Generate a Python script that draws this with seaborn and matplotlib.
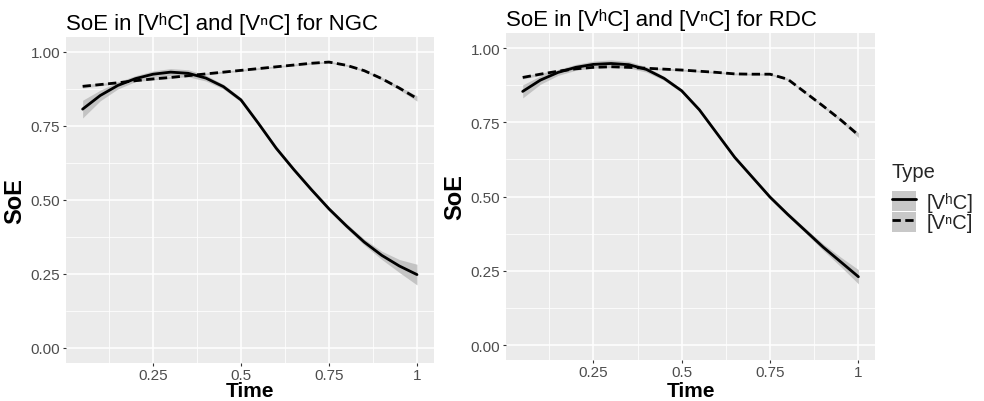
import matplotlib
matplotlib.use("Agg")
import matplotlib.pyplot as plt
import seaborn as sns
import pandas as pd
import numpy as np
from matplotlib.lines import Line2D
from matplotlib.patches import Patch
from matplotlib.legend_handler import HandlerTuple

sns.set_theme(style="darkgrid")
plt.rcParams['font.family'] = ['Liberation Sans', 'DejaVu Sans']

time = [0.05, 0.10, 0.15, 0.20, 0.25, 0.30, 0.35, 0.40, 0.45, 0.50,
        0.55, 0.60, 0.65, 0.70, 0.75, 0.80, 0.85, 0.90, 0.95, 1.00]

ngc_vhc = [0.807, 0.853, 0.887, 0.910, 0.925, 0.932, 0.928, 0.912, 0.883, 0.838,
           0.758, 0.675, 0.603, 0.535, 0.470, 0.412, 0.358, 0.313, 0.277, 0.248]
ngc_vhc_se = [0.030, 0.018, 0.012, 0.010, 0.011, 0.012, 0.012, 0.010, 0.008, 0.007,
              0.007, 0.007, 0.007, 0.007, 0.007, 0.008, 0.010, 0.014, 0.022, 0.035]
ngc_vnc = [0.884, 0.890, 0.896, 0.903, 0.909, 0.914, 0.920, 0.926, 0.932, 0.938,
           0.944, 0.950, 0.956, 0.962, 0.966, 0.955, 0.937, 0.910, 0.878, 0.843]
ngc_vnc_se = [0.006, 0.004, 0.003, 0.003, 0.003, 0.003, 0.003, 0.003, 0.003, 0.003,
              0.003, 0.003, 0.003, 0.003, 0.003, 0.003, 0.003, 0.004, 0.006, 0.009]

rdc_vhc = [0.854, 0.892, 0.918, 0.935, 0.945, 0.948, 0.944, 0.928, 0.898, 0.856,
           0.792, 0.712, 0.632, 0.565, 0.498, 0.440, 0.385, 0.330, 0.280, 0.230]
rdc_vhc_se = [0.022, 0.014, 0.010, 0.010, 0.011, 0.012, 0.011, 0.009, 0.007, 0.006,
              0.006, 0.006, 0.006, 0.006, 0.006, 0.007, 0.008, 0.011, 0.016, 0.024]
rdc_vnc = [0.901, 0.912, 0.922, 0.930, 0.935, 0.937, 0.935, 0.932, 0.929, 0.926,
           0.922, 0.918, 0.913, 0.912, 0.912, 0.895, 0.850, 0.805, 0.758, 0.707]
rdc_vnc_se = [0.005, 0.004, 0.003, 0.003, 0.003, 0.003, 0.003, 0.003, 0.003, 0.003,
              0.003, 0.003, 0.003, 0.003, 0.003, 0.003, 0.003, 0.004, 0.005, 0.008]

types = ["[V\u02b0C]", "[V\u207fC]"]
x_ticks = [0.25, 0.5, 0.75, 1.0]
x_ticklabels = ["0.25", "0.5", "0.75", "1"]
y_ticks = [0.0, 0.25, 0.5, 0.75, 1.0]
y_ticklabels = ["0.00", "0.25", "0.50", "0.75", "1.00"]
titles = ["SoE in [V\u02b0C] and [V\u207fC] for NGC", "SoE in [V\u02b0C] and [V\u207fC] for RDC"]

panels = [
    (ngc_vhc, ngc_vhc_se, ngc_vnc, ngc_vnc_se),
    (rdc_vhc, rdc_vhc_se, rdc_vnc, rdc_vnc_se),
]

W, H = 984, 402
fig = plt.figure(figsize=(W / 100, H / 100), dpi=100)
fig.patch.set_facecolor("white")
# axes boxes in pixels: left, top, right, bottom
boxes = [(65.9, 38.2, 433.7, 363.8), (505.9, 34.2, 875.2, 360.9)]

RIB = "#BDBDBD"
DASH = (3.0, 1.6)
TIME_BASELINE = 397.0
SOE_OFFSET = 51.0

for (l, t_, r, b), (vh, vh_se, vn, vn_se), title in zip(boxes, panels, titles):
    ax = fig.add_axes([l / W, (H - b) / H, (r - l) / W, (b - t_) / H])
    ax.set_facecolor("#EBEBEB")
    df = pd.DataFrame({
        "Time": time * 2,
        "SoE": list(vh) + list(vn),
        "Type": [types[0]] * len(time) + [types[1]] * len(time),
    })
    tt = np.array(time)
    for vals, se in ((vh, vh_se), (vn, vn_se)):
        v = np.array(vals); s = np.array(se)
        ax.fill_between(tt, v - s, v + s, color=RIB, alpha=0.85, lw=0, zorder=2)
    sns.lineplot(data=df, x="Time", y="SoE", style="Type", style_order=types,
                 dashes={types[0]: "", types[1]: DASH}, color="black",
                 linewidth=2.0, ax=ax, legend=False, zorder=3)
    ax.set_xlim(0.0025, 1.0475)
    ax.set_ylim(-0.05, 1.05)
    ax.set_xticks(x_ticks)
    ax.set_xticklabels(x_ticklabels)
    ax.set_yticks(y_ticks)
    ax.set_yticklabels(y_ticklabels)
    ax.set_xticks([0.125, 0.375, 0.625, 0.875], minor=True)
    ax.set_yticks([0.125, 0.375, 0.625, 0.875], minor=True)
    ax.grid(which="major", color="white", linewidth=1.1)
    ax.grid(which="minor", color="white", linewidth=0.55)
    ax.set_axisbelow(True)
    for sp in ax.spines.values():
        sp.set_visible(False)
    ax.tick_params(which="major", length=2.5, width=0.8, color="#333333",
                   labelsize=11, labelcolor="#4D4D4D", pad=1.5,
                   bottom=True, left=True)
    ax.tick_params(which="minor", length=0)
    ax.set_xlabel("Time", fontsize=15, fontweight="bold", color="black")
    ax.xaxis.label.set_va("baseline")
    ax.xaxis.set_label_coords(0.5, -(TIME_BASELINE - b) / (b - t_))
    ax.set_ylabel("SoE", fontsize=17, fontweight="bold", color="black")
    ax.yaxis.label.set_va("center")
    ax.yaxis.set_label_coords(-SOE_OFFSET / (r - l), 0.5)
    ax.set_title(title, loc="left", fontsize=16, color="black", pad=6)

handles = [
    (Patch(facecolor="#C8C8C8", edgecolor="none"), Line2D([], [], color="black", lw=2.0)),
    (Patch(facecolor="#C8C8C8", edgecolor="none"), Line2D([], [], color="black", lw=2.0, dashes=DASH)),
]
leg = fig.legend(handles=handles, labels=types, title="Type",
                 handler_map={tuple: HandlerTuple(ndivide=1, pad=0)},
                 loc="upper left", bbox_to_anchor=(892 / W, (H - 163) / H), frameon=False,
                 fontsize=14.5, title_fontsize=14.5, handlelength=1.2, handleheight=1.15,
                 labelspacing=0.0, handletextpad=0.5, borderaxespad=0, borderpad=0)
leg._legend_box.align = "left"
leg._legend_box.sep = 7

fig.savefig("out.png", dpi=100, facecolor="white")
